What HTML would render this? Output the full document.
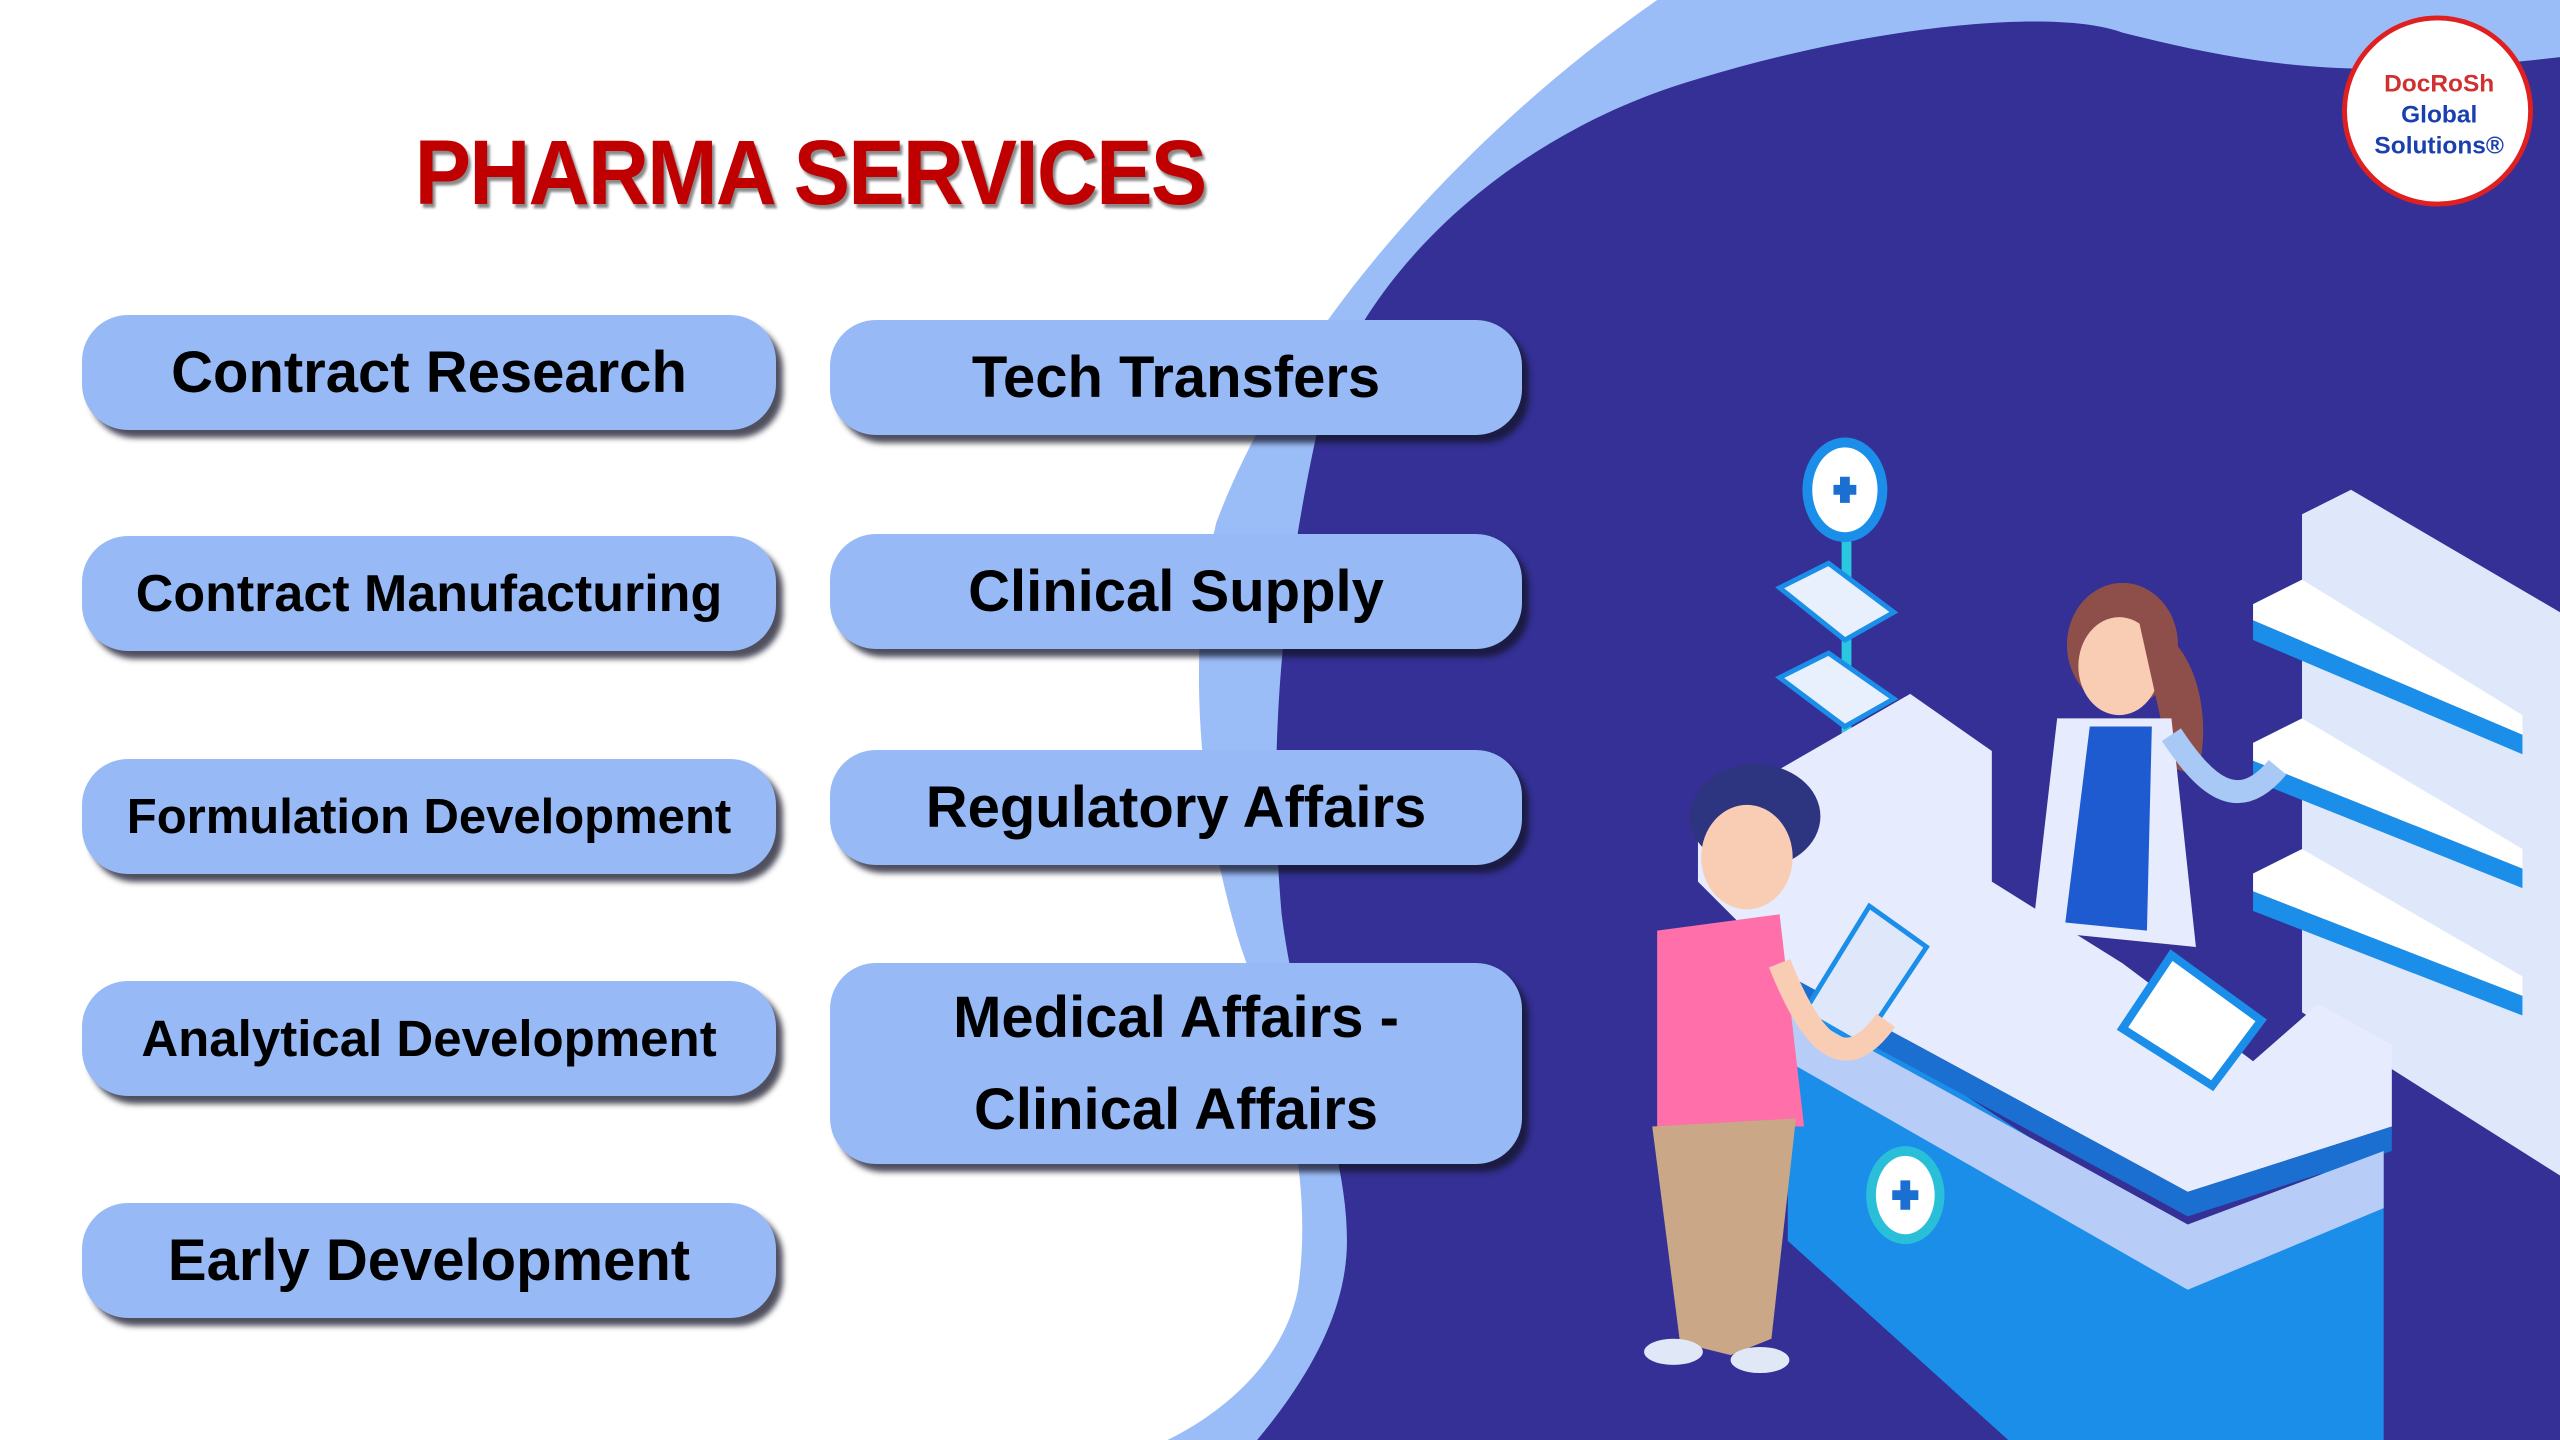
<!DOCTYPE html>
<html><head><meta charset="utf-8"><style>
html,body{margin:0;padding:0;}
body{width:2560px;height:1440px;position:relative;overflow:hidden;background:#fff;font-family:"Liberation Sans",sans-serif;}
svg.bg{position:absolute;left:0;top:0;width:2560px;height:1440px;}
.title{position:absolute;left:290px;top:118px;width:1040px;text-align:center;font-weight:bold;font-size:92px;line-height:110px;white-space:nowrap;color:#c00000;text-shadow:3px 4px 3px #8a8a8a;letter-spacing:-2px;transform:scaleX(0.92);transform-origin:center;}
.b{position:absolute;background:#97b9f5;border-radius:46px;box-shadow:7px 8px 6px rgba(20,20,40,0.75);display:flex;align-items:center;justify-content:center;text-align:center;font-weight:bold;color:#000;font-size:58px;line-height:92px;white-space:nowrap;}
.l{left:82px;width:694px;height:115px;}
.r{left:830px;width:692px;height:115px;}
.s{font-size:52px;}
</style></head><body>
<svg class="bg" viewBox="0 0 1568 882" preserveAspectRatio="none">
  <path d="M1015,0 C900,80 790,200 745,320 C725,400 735,500 760,580 C785,650 805,720 795,790 C785,840 740,870 715,882 L1568,882 L1568,0 Z" fill="#9bbdf7"/>
  <path d="M1041,48 C1150,15 1260,5 1300,20 C1380,40 1440,50 1568,35 L1568,882 L770,882 C805,840 825,800 825,760 C825,700 795,640 785,560 C778,480 780,380 810,250 C840,160 930,80 1041,48 Z" fill="#343095"/>
  <circle cx="1493" cy="68" r="57" fill="#fff" stroke="#e02020" stroke-width="3"/>
  <text x="1494" y="56" font-family="Liberation Sans" font-weight="bold" font-size="15" fill="#d03030" text-anchor="middle">DocRoSh</text>
  <text x="1494" y="75" font-family="Liberation Sans" font-weight="bold" font-size="15" fill="#1a40b0" text-anchor="middle">Global</text>
  <text x="1494" y="94" font-family="Liberation Sans" font-weight="bold" font-size="15" fill="#1a40b0" text-anchor="middle">Solutions®</text>
  <polygon points="1410,315 1440,300 1568,375 1568,720 1410,620" fill="#dfe8fb"/>
  <polygon points="1380,370 1410,355 1545,438 1545,450 1380,380" fill="#ffffff"/>
  <polygon points="1380,380 1545,450 1545,462 1380,392" fill="#1a8ee8"/>
  <polygon points="1380,455 1410,440 1545,520 1545,532 1380,466" fill="#ffffff"/>
  <polygon points="1380,466 1545,532 1545,544 1380,478" fill="#1a8ee8"/>
  <polygon points="1380,535 1410,520 1545,598 1545,610 1380,546" fill="#ffffff"/>
  <polygon points="1380,546 1545,610 1545,622 1380,558" fill="#1a8ee8"/>
  <rect x="1128" y="320" width="6" height="150" fill="#29c7e0"/>
  <ellipse cx="1130" cy="300" rx="26" ry="32" fill="#1a8ee8"/>
  <ellipse cx="1130" cy="300" rx="20" ry="26" fill="#fff"/>
  <path d="M1123,300 h14 M1130,292 v16" stroke="#1a6fd0" stroke-width="6"/>
  <polygon points="1090,360 1120,345 1160,375 1130,392" fill="#e8f0fd" stroke="#1a8ee8" stroke-width="3"/>
  <polygon points="1090,415 1120,400 1160,428 1130,445" fill="#e8f0fd" stroke="#1a8ee8" stroke-width="3"/>
  <ellipse cx="1130" cy="475" rx="35" ry="18" fill="#1a6fd0"/>
  <polygon points="1095,600 1095,760 1230,882 1460,882 1460,700 1340,760" fill="#1a8ee8"/>
  <polygon points="1040,500 1170,425 1220,460 1220,540 1300,590 1380,650 1420,615 1465,640 1465,690 1340,730 1100,600 1040,540" fill="#e6ecfd"/>
  <polygon points="1100,600 1340,730 1465,690 1465,705 1340,745 1100,615" fill="#1a6fd0"/>
  <polygon points="1095,615 1340,750 1460,705 1460,740 1340,790 1095,650" fill="#b7cdf8"/>
  <ellipse cx="1167" cy="732" rx="24" ry="30" fill="#2abfd8"/>
  <ellipse cx="1167" cy="732" rx="18" ry="24" fill="#fff"/>
  <path d="M1159,732 h16 M1167,723 v18" stroke="#1a6fd0" stroke-width="6"/>
  <polygon points="1300,630 1330,585 1385,625 1355,665" fill="#fff" stroke="#1a8ee8" stroke-width="5"/>
  <ellipse cx="1300" cy="395" rx="34" ry="38" fill="#8e4e4a"/>
  <ellipse cx="1298" cy="408" rx="25" ry="30" fill="#f8cdb4"/>
  <path d="M1310,380 C1350,390 1355,450 1345,475 L1330,470 Z" fill="#8e4e4a"/>
  <polygon points="1260,440 1330,440 1345,580 1245,570" fill="#e6ecfd"/>
  <polygon points="1280,445 1318,445 1315,570 1265,565" fill="#1e5bd0"/>
  <path d="M1330,450 C1350,480 1370,500 1395,470" stroke="#a8c8f6" stroke-width="14" fill="none"/>
  <ellipse cx="1075" cy="500" rx="40" ry="32" fill="#2e3580"/>
  <ellipse cx="1070" cy="525" rx="28" ry="32" fill="#f8cdb4"/>
  <polygon points="1015,570 1090,560 1105,690 1015,690" fill="#ff6faa"/>
  <polygon points="1012,690 1100,685 1085,820 1060,830 1040,825 1030,830" fill="#c9a787"/>
  <ellipse cx="1025" cy="828" rx="18" ry="8" fill="#e0e8f8"/>
  <ellipse cx="1078" cy="833" rx="18" ry="8" fill="#e0e8f8"/>
  <polygon points="1105,620 1145,555 1180,580 1140,640" fill="#dfe8fb" stroke="#1a8ee8" stroke-width="3"/>
  <path d="M1090,590 C1110,640 1130,660 1155,625" stroke="#f8cdb4" stroke-width="14" fill="none"/>
</svg>
<div class="title">PHARMA SERVICES</div>
<div class="b l" style="top:315px">Contract Research</div>
<div class="b l s" style="top:536px">Contract Manufacturing</div>
<div class="b l s" style="top:759px;font-size:49px">Formulation Development</div>
<div class="b l s" style="top:981px;font-size:51px">Analytical Development</div>
<div class="b l" style="top:1203px">Early Development</div>
<div class="b r" style="top:320px">Tech Transfers</div>
<div class="b r" style="top:534px">Clinical Supply</div>
<div class="b r" style="top:750px">Regulatory Affairs</div>
<div class="b r" style="top:963px;height:201px;">Medical Affairs -<br>Clinical Affairs</div>
</body></html>
